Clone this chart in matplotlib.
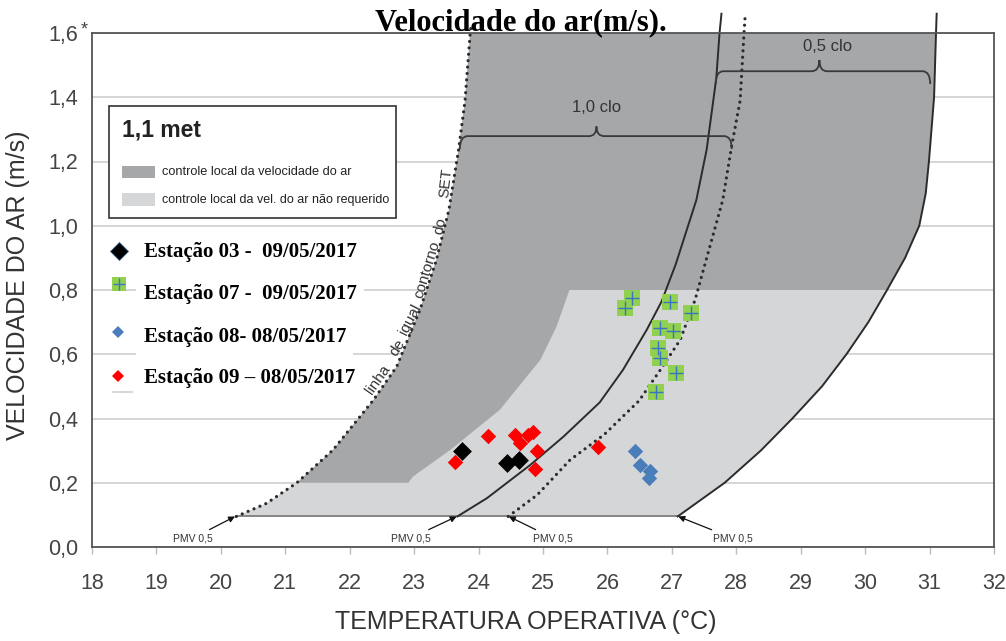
import numpy as np
import matplotlib.pyplot as plt
from matplotlib.path import Path
from matplotlib.patches import PathPatch, Rectangle

plt.rcParams['font.family'] = ['Liberation Sans', 'DejaVu Sans']

# boundary curves (operative temperature, air speed)
set_x = [20.24, 20.71, 21.18, 21.74, 22.37, 22.73, 23.09, 23.34, 23.54, 23.69, 23.79, 23.87, 23.89]
set_y = [0.095, 0.136, 0.20, 0.302, 0.458, 0.562, 0.738, 0.89, 1.05, 1.237, 1.39, 1.60, 1.63]
mid_x = [23.67, 24.13, 24.80, 25.32, 25.88, 26.24, 26.61, 26.84, 27.06, 27.38, 27.54, 27.69, 27.74, 27.77]
mid_y = [0.095, 0.152, 0.255, 0.344, 0.45, 0.551, 0.676, 0.764, 0.88, 1.08, 1.237, 1.46, 1.60, 1.66]
dot_x = [24.46, 24.91, 25.42, 25.95, 26.49, 26.82, 27.13, 27.36, 27.49, 27.79, 27.93, 28.06, 28.12, 28.14]
dot_y = [0.095, 0.162, 0.271, 0.35, 0.455, 0.551, 0.645, 0.769, 0.863, 1.08, 1.25, 1.39, 1.60, 1.66]
right_x = [27.09, 27.82, 28.38, 28.87, 29.33, 29.71, 30.05, 30.34, 30.62, 30.84, 30.94, 30.99, 31.07, 31.10, 31.11]
right_y = [0.095, 0.20, 0.30, 0.40, 0.50, 0.60, 0.70, 0.80, 0.90, 1.00, 1.10, 1.20, 1.40, 1.60, 1.66]
inner_x = [22.91, 22.98, 23.56, 24.33, 24.96, 25.21, 25.41]
inner_y = [0.20, 0.219, 0.302, 0.427, 0.583, 0.686, 0.80]

# measured stations
st03_x = [23.75, 24.44, 24.62]
st03_y = [0.30, 0.26, 0.27]
st07_x = [26.38, 26.27, 26.97, 27.29, 26.81, 27.01, 26.79, 26.81, 27.06, 26.76]
st07_y = [0.775, 0.744, 0.764, 0.728, 0.683, 0.673, 0.619, 0.588, 0.541, 0.484]
st08_x = [26.43, 26.51, 26.66, 26.64]
st08_y = [0.300, 0.255, 0.238, 0.214]
st09_x = [24.15, 24.56, 24.77, 24.85, 24.65, 24.91, 24.88, 23.64, 25.86]
st09_y = [0.346, 0.349, 0.349, 0.359, 0.323, 0.300, 0.243, 0.264, 0.312]

legend_labels = ['Estação 03 -  09/05/2017', 'Estação 07 -  09/05/2017',
                 'Estação 08- 08/05/2017', 'Estação 09 – 08/05/2017']
x_ticks = list(range(18, 33))
y_ticks = [0.0, 0.2, 0.4, 0.6, 0.8, 1.0, 1.2, 1.4, 1.6]
y_ticklabels = ['0,0', '0,2', '0,4', '0,6', '0,8', '1,0', '1,2', '1,4', '1,6']
pmv_tips = [(20.22, 0.095), (23.66, 0.095), (24.47, 0.095), (27.10, 0.095)]
pmv_text = [(19.57, 0.028), (22.95, 0.028), (25.15, 0.028), (27.94, 0.028)]

DARK = '#a6a7a9'
LIGHT = '#d5d6d8'
LINE = '#2b2b2b'

fig = plt.figure(figsize=(10.06, 6.41), dpi=100)
ax = fig.add_axes([92 / 1006, 94 / 641, 902 / 1006, 514 / 641])
ax.set_xlim(18, 32)
ax.set_ylim(0, 1.6)

# shaded zones
ax.fill(set_x + right_x[::-1], set_y + right_y[::-1], color=LIGHT, lw=0, zorder=1)
sx = [x for x, y in zip(set_x, set_y) if y >= 0.2]
sy = [y for y in set_y if y >= 0.2]
rx = [x for x, y in zip(right_x, right_y) if y >= 0.8][::-1]
ry = [y for y in right_y if y >= 0.8][::-1]
ax.fill(sx + rx + inner_x[::-1], sy + ry + inner_y[::-1], color=DARK, lw=0, zorder=2)
ax.plot([set_x[0], right_x[0]], [set_y[0], right_y[0]], color='#777777', lw=1.2, zorder=3)

# comfort boundary lines
dotted = dict(color=LINE, lw=2.3, ls=(0, (0.01, 2.0)), dash_capstyle='round', clip_on=False, zorder=4)
ax.plot(set_x, set_y, **dotted)
ax.plot(dot_x, dot_y, **dotted)
ax.plot(mid_x, mid_y, color=LINE, lw=1.4, clip_on=False, zorder=4)
ax.plot(right_x, right_y, color=LINE, lw=1.4, clip_on=False, zorder=4)


def brace(x0, x1, xm, y, hook, tip):
    rx, ry = 0.12, 0.025
    verts = [(x0, y - hook), (x0, y), (x0 + rx, y),
             (xm - rx, y), (xm, y), (xm, y + tip),
             (xm, y), (xm + rx, y),
             (x1 - rx, y), (x1, y), (x1, y - hook)]
    codes = [Path.MOVETO, Path.CURVE3, Path.CURVE3,
             Path.LINETO, Path.CURVE3, Path.CURVE3,
             Path.CURVE3, Path.CURVE3,
             Path.LINETO, Path.CURVE3, Path.CURVE3]
    ax.add_patch(PathPatch(Path(verts, codes), fill=False, ec='#3a3a3a', lw=1.3, zorder=5))


brace(23.71, 27.93, 25.83, 1.279, 0.04, 0.03)
brace(27.68, 31.01, 29.29, 1.481, 0.04, 0.035)
ax.text(25.83, 1.367, '1,0 clo', fontsize=12, color='#333333', ha='center', va='center', zorder=5)
ax.text(29.42, 1.558, '0,5 clo', fontsize=12, color='#333333', ha='center', va='center', zorder=5)

# SET label following the dotted curve
set_words = ['linha', 'de', 'igual', 'contorno', 'do', 'SET']
set_word_pos = [(22.44, 0.52, 55), (22.74, 0.622, 58), (22.93, 0.707, 63),
                (23.20, 0.863, 73), (23.40, 0.998, 78), (23.50, 1.134, 84)]
for w, (wx, wy, rot) in zip(set_words, set_word_pos):
    ax.text(wx, wy, w, fontsize=11, color='#333333', rotation=rot, rotation_mode='anchor',
            ha='center', va='center', zorder=5)

# PMV markers
for (tx, ty), tip in zip(pmv_text, pmv_tips):
    ax.annotate('PMV 0,5', xy=tip, xytext=(tx, ty), fontsize=7.5, color='#333333',
                ha='center', va='center', zorder=5,
                arrowprops=dict(arrowstyle='-|>', color='#111111', lw=0.9,
                                mutation_scale=9, shrinkA=1, shrinkB=0))

# data
ax.scatter(st09_x, st09_y, marker='D', s=62, c='#ff0000', lw=0, zorder=6)
ax.scatter(st08_x, st08_y, marker='D', s=62, c='#4a7ebb', lw=0, zorder=6)
ax.scatter(st07_x, st07_y, marker='s', s=125, c='#92d050', lw=0, zorder=6)
ax.scatter(st07_x, st07_y, marker='+', s=90, c='#3a75c4', lw=1.0, zorder=7)
ax.scatter(st03_x, st03_y, marker='D', s=92, c='black', lw=0, zorder=8)

# zone legend box
ax.add_patch(Rectangle((18.27, 1.024), 4.45, 0.348, fc='white', ec='#333333', lw=1.2, zorder=5))
ax.text(18.46, 1.297, '1,1 met', fontsize=16.5, fontweight='bold', color='#222222', va='center', zorder=6)
ax.add_patch(Rectangle((18.46, 1.149), 0.514, 0.038, fc=DARK, lw=0, zorder=6))
ax.add_patch(Rectangle((18.46, 1.060), 0.514, 0.042, fc=LIGHT, lw=0, zorder=6))
ax.text(19.08, 1.166, 'controle local da velocidade do ar', fontsize=9.2, color='#222222',
        va='center', zorder=6)
ax.text(19.08, 1.081, 'controle local da vel. do ar não requerido', fontsize=9, color='#222222',
        va='center', zorder=6)

# station legend
leg_marker_y = [0.920, 0.818, 0.669, 0.533]
leg_text_y = [0.917, 0.788, 0.653, 0.527]
ax.plot([18.32, 18.62], [0.484, 0.484], color='#cfcfcf', lw=1.2, zorder=5)
ax.plot(18.42, leg_marker_y[0], 'D', ms=9, color='black', mec='#3a5f8f', mew=0.6, zorder=8)
ax.plot(18.42, leg_marker_y[1], 's', ms=10, color='#92d050', mew=0, zorder=8)
ax.plot(18.42, leg_marker_y[1], '+', ms=9, color='#3a75c4', mew=1.0, zorder=9)
ax.plot(18.40, leg_marker_y[2], 'D', ms=6.5, color='#4a7ebb', mew=0, zorder=8)
ax.plot(18.40, leg_marker_y[3], 'D', ms=6.5, color='#ff0000', mew=0, zorder=8)
for lab, ty in zip(legend_labels, leg_text_y):
    ax.text(18.80, ty, lab, fontsize=15, fontweight='bold', family='Liberation Serif',
            color='black', va='center', zorder=7,
            bbox=dict(boxstyle='square,pad=0.35', fc='white', ec='none'))

# axes styling
ax.set_yticks(y_ticks)
ax.set_yticklabels(y_ticklabels)
ax.set_xticks(x_ticks)
ax.yaxis.grid(True, color='#d2d2d2', lw=1.3, zorder=0)
ax.set_axisbelow(True)
ax.tick_params(axis='y', length=0, pad=10, labelsize=15.5, labelcolor='#444444')
ax.tick_params(axis='x', length=5, width=1, color='#bbbbbb', pad=14, labelsize=15.5,
               labelcolor='#444444')
for sp in ax.spines.values():
    sp.set_color('#555555')
    sp.set_linewidth(1.3)
    sp.set_zorder(6)

fig.text(84 / 1006, 1 - 30 / 641, '*', fontsize=13, color='#444444', ha='center', va='center')
fig.text(526 / 1006, 1 - 622 / 641, 'TEMPERATURA OPERATIVA (°C)', fontsize=18, color='#333333',
         ha='center', va='center')
fig.text(18 / 1006, 1 - 285 / 641, 'VELOCIDADE DO AR (m/s)', fontsize=18, color='#333333',
         rotation=90, ha='center', va='center')
fig.text(375 / 1006, 1 - 30 / 641, 'Velocidade do ar(m/s).', fontsize=22, fontweight='bold',
         family='Liberation Serif', color='black', ha='left', va='baseline')

fig.savefig('out.png', dpi=100)
